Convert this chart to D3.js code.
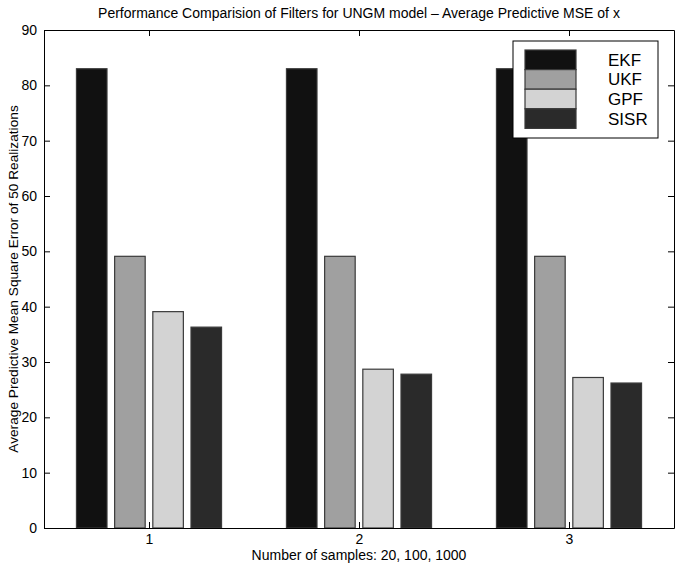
<!DOCTYPE html>
<html>
<head>
<meta charset="utf-8">
<script src="https://cdn.jsdelivr.net/npm/d3@7"></script>
<style>
  html, body { margin: 0; padding: 0; background: #fff; }
  svg { display: block; font-family: "Liberation Sans", Arial, Helvetica, sans-serif; }
</style>
</head>
<body>
<svg id="chart" width="676" height="567"></svg>
<script>
const categories = [1, 2, 3];
const seriesNames = ["EKF", "UKF", "GPF", "SISR"];
const EKF  = [83, 83, 83];
const UKF  = [49.1, 49.1, 49.1];
const GPF  = [39.1, 28.7, 27.2];
const SISR = [36.3, 27.8, 26.2];
const yTicks = [0, 10, 20, 30, 40, 50, 60, 70, 80, 90];
const xTickLabels = ["1", "2", "3"];
const colors = ["#111111", "#a0a0a0", "#d3d3d3", "#2a2a2a"];

const series = [EKF, UKF, GPF, SISR];

const svg = d3.select("#chart");
const L = 44, R = 674, T = 30, B = 528;

const x = d3.scaleLinear().domain([0.5, 3.5]).range([L, R]);
const y = d3.scaleLinear().domain([0, 90]).range([B, T]);

const n = series.length;
const groupWidth = Math.min(0.8, n / (n + 1.5));
const barW = groupWidth / n * 0.8;
const offset = i => (i - (n - 1) / 2) * groupWidth / n;

// bars
series.forEach((vals, si) => {
  svg.append("g").selectAll("rect")
    .data(vals)
    .join("rect")
    .attr("x", (d, ci) => x(categories[ci] + offset(si) - barW / 2))
    .attr("width", x(barW) - x(0))
    .attr("y", d => y(d))
    .attr("height", d => y(0) - y(d))
    .attr("fill", colors[si])
    .attr("stroke", "#3a3a3a")
    .attr("stroke-width", 1.2);
});

// axes box
const tickLen = 6;
const axisLeft = d3.axisLeft(y).tickValues(yTicks).tickSizeInner(-tickLen).tickSizeOuter(0).tickPadding(7);
const gL = svg.append("g").attr("transform", `translate(${L},0)`).call(axisLeft);
const axisRight = d3.axisRight(y).tickValues(yTicks).tickSizeInner(-tickLen).tickSizeOuter(0).tickFormat("");
const gR = svg.append("g").attr("transform", `translate(${R},0)`).call(axisRight);
const axisBottom = d3.axisBottom(x).tickValues(categories).tickFormat((d, i) => xTickLabels[i])
  .tickSizeInner(-tickLen).tickSizeOuter(0).tickPadding(6);
const gB = svg.append("g").attr("transform", `translate(0,${B})`).call(axisBottom);
const axisTop = d3.axisTop(x).tickValues(categories).tickSizeInner(-tickLen).tickSizeOuter(0).tickFormat("");
const gT = svg.append("g").attr("transform", `translate(0,${T})`).call(axisTop);

[gL, gR, gB, gT].forEach(g => {
  g.select(".domain").attr("stroke", "#000").attr("stroke-width", 1);
  g.selectAll(".tick line").attr("stroke", "#000").attr("stroke-width", 1);
  g.selectAll("text").attr("fill", "#000").attr("font-size", 14)
    .attr("font-family", "'Liberation Sans', Arial, sans-serif");
});

// title and axis labels
svg.append("text")
  .attr("x", (L + R) / 2).attr("y", 18)
  .attr("text-anchor", "middle").attr("font-size", 14).attr("fill", "#000")
  .text("Performance Comparision of Filters for UNGM model \u2013 Average Predictive MSE of x");

svg.append("text")
  .attr("x", (L + R) / 2).attr("y", 560)
  .attr("text-anchor", "middle").attr("font-size", 14).attr("fill", "#000")
  .text("Number of samples: 20, 100, 1000");

svg.append("text")
  .attr("transform", `translate(18,${(T + B) / 2}) rotate(-90)`)
  .attr("text-anchor", "middle").attr("font-size", 13.7).attr("fill", "#000")
  .text("Average Predictive Mean Square Error of 50 Realizations");

// legend
const lg = svg.append("g");
lg.append("rect").attr("x", 513).attr("y", 41).attr("width", 145).attr("height", 97)
  .attr("fill", "#fff").attr("stroke", "#000").attr("stroke-width", 1);
const rowH = 19.6;
seriesNames.forEach((name, i) => {
  lg.append("rect").attr("x", 525).attr("y", 50 + i * rowH)
    .attr("width", 51).attr("height", rowH)
    .attr("fill", colors[i]).attr("stroke", "#3a3a3a").attr("stroke-width", 1.2);
  lg.append("text").attr("x", 608).attr("y", 50 + i * rowH + rowH / 2 + 6)
    .attr("font-size", 17).attr("fill", "#000").text(name);
});
</script>
</body>
</html>
